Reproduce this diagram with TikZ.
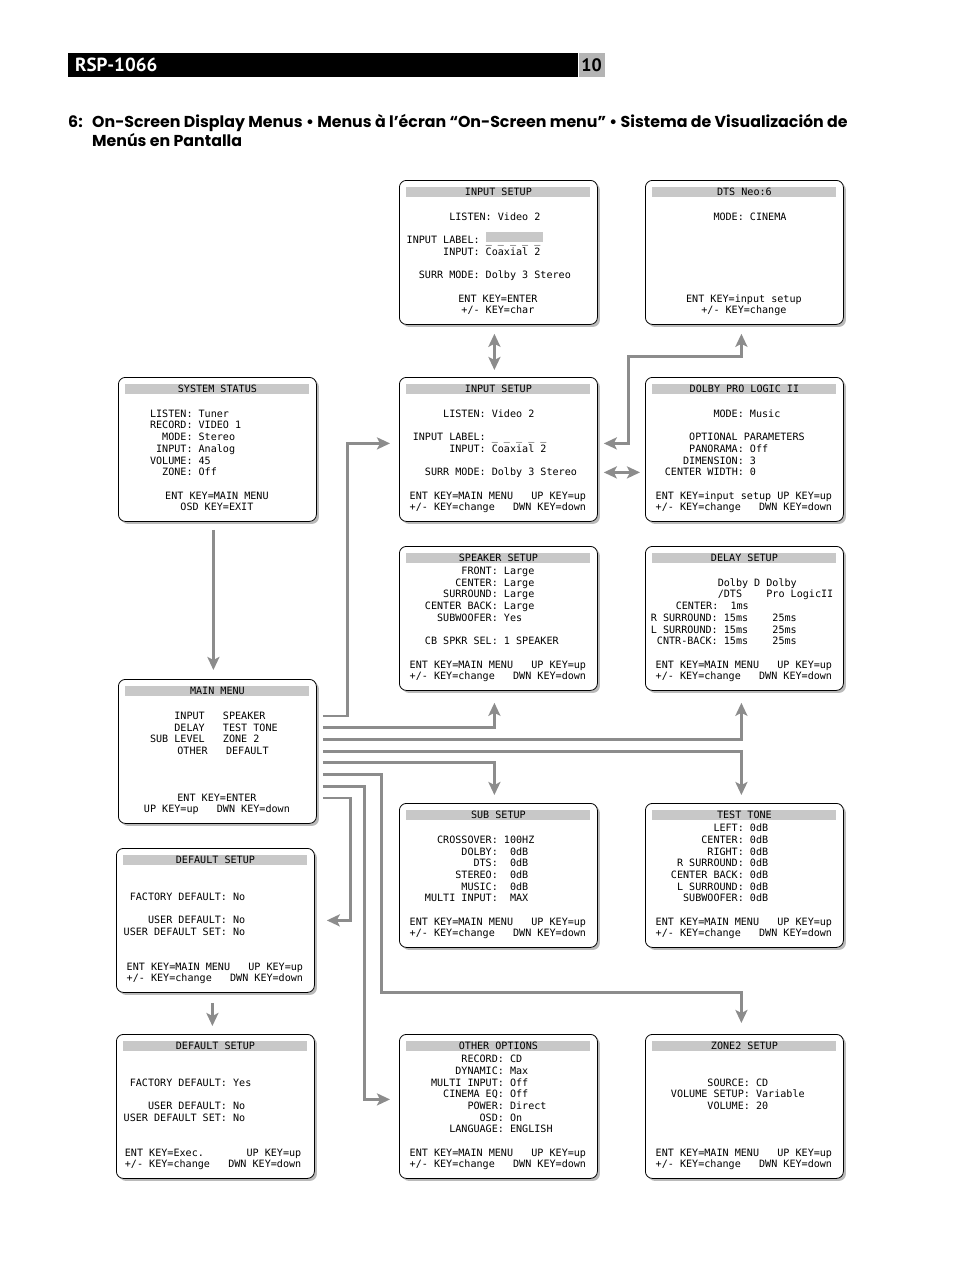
\documentclass[tikz,border=0pt]{standalone}
\usepackage{fontspec}
\setmonofont{DejaVu Sans Mono}
\newfontfamily\headfont{PT Sans}
\newfontfamily\sectfont{Poppins}
\usetikzlibrary{arrows.meta, shadows}
\definecolor{arrc}{RGB}{140,140,140}
\definecolor{barc}{RGB}{200,200,200}
\definecolor{pgc}{RGB}{180,180,180}
\newlength\osdcw
\setlength\osdcw{6.08pt}
\newcommand\osdfont{\fontsize{10.1pt}{11.7pt}\selectfont\ttfamily\frenchspacing}
\newcommand\osdin[1]{\hspace*{#1\osdcw}}
\newcommand\labelhl{\rlap{\smash{\color{barc}\rule[1.5pt]{57pt}{10pt}}}}
\newcommand\osdbox[5]{%
  \node[osd] (#1) at (#2,#3) {};
  \node[osdtitle] (#1t) at ([yshift=-12pt]#1.north) {#4};
  \node[osdbody] (#1b) at ([xshift=7.5pt,yshift=-20.2pt]#1.north west)
    {\begin{tabular}{@{}l@{}}#5\end{tabular}};}
\tikzset{
  osd/.style={draw=black, line width=0.8pt, rounded corners=7pt, fill=white,
    minimum width=198pt, minimum height=144pt, anchor=north west, inner sep=0pt,
    drop shadow={shadow xshift=2.5pt, shadow yshift=-2.5pt, fill=black!45, opacity=.6}},
  osdtitle/.style={fill=barc, minimum width=184pt, inner xsep=0pt, inner ysep=1pt,
    text height=7.3pt, text depth=0pt, font=\osdfont},
  osdbody/.style={anchor=north west, inner sep=0pt, font=\osdfont},
  conn/.style={draw=arrc, line width=2.8pt},
  arr/.style={conn, -{Stealth[length=13pt,width=12pt,inset=3pt]}},
  arr2/.style={conn, {Stealth[length=13pt,width=12pt,inset=3pt]}-{Stealth[length=13pt,width=12pt,inset=3pt]}}
}
\begin{document}
\begin{tikzpicture}[x=1pt,y=-1pt]
  \fill[white] (0,0) rectangle (954,1272);
  \useasboundingbox (0,0) rectangle (954,1272);

  \node[fill=black, minimum width=510pt, minimum height=24pt, anchor=north west, inner sep=0pt] (hdr) at (68,53) {};
  \node[anchor=west, text=white, inner sep=0pt, font=\headfont\bfseries\fontsize{19pt}{19pt}\selectfont] (model) at ([xshift=7pt]hdr.west) {RSP-1066};
  \node[fill=pgc, minimum width=26pt, minimum height=24pt, anchor=west, inner sep=0pt, font=\headfont\bfseries\fontsize{18pt}{18pt}\selectfont] (pg) at (hdr.east) {10};
  \node[anchor=north west, inner sep=0pt, font=\sectfont\bfseries\fontsize{15.8pt}{19pt}\selectfont] (sect) at (68,114)
    {\begin{tabular}{@{}l@{}l@{}}\makebox[24pt][l]{6:}&On-Screen Display Menus • Menus à l’écran “On-Screen menu” • Sistema de Visualización de\\
     &Menús en Pantalla\end{tabular}};

  \osdbox{intop}{399}{180}{INPUT SETUP}{%
    \\
    \osdin{7}LISTEN: Video~2\\
    \\
    INPUT LABEL: \labelhl\_ \_ \_ \_ \_\\
    \osdin{6}INPUT: Coaxial~2\\
    \\
    \osdin{2}SURR MODE: Dolby 3 Stereo\\
    \\
    \osdin{8.5}ENT KEY=ENTER\\
    \osdin{9}+/- KEY=char}
  \osdbox{dts}{645}{180}{DTS Neo:6}{%
    \\
    \osdin{10}MODE: CINEMA\\
    \\ \\ \\ \\ \\ \\
    \osdin{5.5}ENT KEY=input setup\\
    \osdin{8}+/- KEY=change}
  \osdbox{sys}{118}{377}{SYSTEM STATUS}{%
    \\
    \osdin{4}LISTEN: Tuner\\
    \osdin{4}RECORD: VIDEO~1\\
    \osdin{6}MODE: Stereo\\
    \osdin{5}INPUT: Analog\\
    \osdin{4}VOLUME: 45\\
    \osdin{6}ZONE: Off\\
    \\
    \osdin{6.5}ENT KEY=MAIN MENU\\
    \osdin{9}OSD KEY=EXIT}
  \osdbox{inmid}{399}{377}{INPUT SETUP}{%
    \\
    \osdin{6}LISTEN: Video~2\\
    \\
    \osdin{1}INPUT LABEL: \_ \_ \_ \_ \_\\
    \osdin{7}INPUT: Coaxial~2\\
    \\
    \osdin{3}SURR MODE: Dolby 3 Stereo\\
    \\
    \osdin{0.5}ENT KEY=MAIN MENU~~~UP KEY=up\\
    \osdin{0.5}+/- KEY=change~~~DWN KEY=down}
  \osdbox{dolby}{645}{377}{DOLBY PRO LOGIC II}{%
    \\
    \osdin{10}MODE: Music\\
    \\
    \osdin{6}OPTIONAL PARAMETERS\\
    \osdin{6}PANORAMA: Off\\
    \osdin{5}DIMENSION: 3\\
    \osdin{2}CENTER WIDTH: 0\\
    \\
    \osdin{0.5}ENT KEY=input setup UP KEY=up\\
    \osdin{0.5}+/- KEY=change~~~DWN KEY=down}
  \osdbox{spk}{399}{546}{SPEAKER SETUP}{%
    \osdin{9}FRONT: Large\\
    \osdin{8}CENTER: Large\\
    \osdin{6}SURROUND: Large\\
    \osdin{3}CENTER BACK: Large\\
    \osdin{5}SUBWOOFER: Yes\\
    \\
    \osdin{3}CB SPKR SEL: 1 SPEAKER\\
    \\
    \osdin{0.5}ENT KEY=MAIN MENU~~~UP KEY=up\\
    \osdin{0.5}+/- KEY=change~~~DWN KEY=down}
  \osdbox{dly}{645}{546}{DELAY SETUP}{%
    \\
    \osdin{10.7}Dolby D Dolby\\
    \osdin{10.7}/DTS~~~~Pro LogicII\\
    \osdin{3.8}CENTER:~~1ms\\
    \osdin{-0.3}R SURROUND: 15ms~~~~25ms\\
    \osdin{-0.3}L SURROUND: 15ms~~~~25ms\\
    \osdin{0.7}CNTR-BACK: 15ms~~~~25ms\\
    \\
    \osdin{0.5}ENT KEY=MAIN MENU~~~UP KEY=up\\
    \osdin{0.5}+/- KEY=change~~~DWN KEY=down}
  \osdbox{mm}{118}{679}{MAIN MENU}{%
    \\
    \osdin{8}INPUT~~~SPEAKER\\
    \osdin{8}DELAY~~~TEST TONE\\
    \osdin{4}SUB LEVEL~~~ZONE~2\\
    \osdin{8.5}OTHER~~~DEFAULT\\
    \\ \\ \\
    \osdin{8.5}ENT KEY=ENTER\\
    \osdin{3}UP KEY=up~~~DWN KEY=down}
  \osdbox{sub}{399}{803}{SUB SETUP}{%
    \\
    \osdin{5}CROSSOVER: 100HZ\\
    \osdin{9}DOLBY:~~0dB\\
    \osdin{11}DTS:~~0dB\\
    \osdin{8}STEREO:~~0dB\\
    \osdin{9}MUSIC:~~0dB\\
    \osdin{3}MULTI INPUT:~~MAX\\
    \\
    \osdin{0.5}ENT KEY=MAIN MENU~~~UP KEY=up\\
    \osdin{0.5}+/- KEY=change~~~DWN KEY=down}
  \osdbox{tt}{645}{803}{TEST TONE}{%
    \osdin{10}LEFT: 0dB\\
    \osdin{8}CENTER: 0dB\\
    \osdin{9}RIGHT: 0dB\\
    \osdin{4}R SURROUND: 0dB\\
    \osdin{3}CENTER BACK: 0dB\\
    \osdin{4}L SURROUND: 0dB\\
    \osdin{5}SUBWOOFER: 0dB\\
    \\
    \osdin{0.5}ENT KEY=MAIN MENU~~~UP KEY=up\\
    \osdin{0.5}+/- KEY=change~~~DWN KEY=down}
  \osdbox{defa}{116}{848}{DEFAULT SETUP}{%
    \\ \\
    \osdin{1}FACTORY DEFAULT: No\\
    \\
    \osdin{4}USER DEFAULT: No\\
    USER DEFAULT SET: No\\
    \\ \\
    \osdin{0.5}ENT KEY=MAIN MENU~~~UP KEY=up\\
    \osdin{0.5}+/- KEY=change~~~DWN KEY=down}
  \osdbox{defb}{116}{1034}{DEFAULT SETUP}{%
    \\ \\
    \osdin{1}FACTORY DEFAULT: Yes\\
    \\
    \osdin{4}USER DEFAULT: No\\
    USER DEFAULT SET: No\\
    \\ \\
    \osdin{0.2}ENT KEY=Exec.~~~~~~~UP KEY=up\\
    \osdin{0.2}+/- KEY=change~~~DWN KEY=down}
  \osdbox{oth}{399}{1034}{OTHER OPTIONS}{%
    \osdin{9}RECORD: CD\\
    \osdin{8}DYNAMIC: Max\\
    \osdin{4}MULTI INPUT: Off\\
    \osdin{6}CINEMA EQ: Off\\
    \osdin{10}POWER: Direct\\
    \osdin{12}OSD: On\\
    \osdin{7}LANGUAGE: ENGLISH\\
    \\
    \osdin{0.5}ENT KEY=MAIN MENU~~~UP KEY=up\\
    \osdin{0.5}+/- KEY=change~~~DWN KEY=down}
  \osdbox{zone}{645}{1034}{ZONE2 SETUP}{%
    \\ \\
    \osdin{9}SOURCE: CD\\
    \osdin{3}VOLUME SETUP: Variable\\
    \osdin{9}VOLUME: 20\\
    \\ \\ \\
    \osdin{0.5}ENT KEY=MAIN MENU~~~UP KEY=up\\
    \osdin{0.5}+/- KEY=change~~~DWN KEY=down}

  \coordinate (mm1) at ([xshift=6pt,yshift=-37pt]mm.north east);
  \coordinate (mm2) at ([xshift=6pt,yshift=-48.7pt]mm.north east);
  \coordinate (mm3) at ([xshift=6pt,yshift=-60.4pt]mm.north east);
  \coordinate (mm4) at ([xshift=6pt,yshift=-72.1pt]mm.north east);
  \coordinate (mm5) at ([xshift=6pt,yshift=-83.8pt]mm.north east);
  \coordinate (mm6) at ([xshift=6pt,yshift=-95.5pt]mm.north east);
  \coordinate (mm7) at ([xshift=6pt,yshift=-107.2pt]mm.north east);
  \coordinate (mm8) at ([xshift=6pt,yshift=-118.9pt]mm.north east);

  \draw[arr] (mm1) -- ++(25,0) |- ([xshift=-9pt,yshift=6pt]inmid.west);
  \draw[arr] (mm2) -| ([xshift=-4pt,yshift=-12pt]spk.south);
  \draw[arr] (mm3) -| ([xshift=-3pt,yshift=-12pt]dly.south);
  \draw[arr] (mm4) -| ([xshift=-3pt,yshift=8pt]tt.north);
  \draw[arr] (mm5) -| ([xshift=-4pt,yshift=8pt]sub.north);
  \draw[arr] (mm6) -- ++(59,0) -- ++(0,218) -| ([xshift=-3pt,yshift=11pt]zone.north);
  \draw[arr] (mm7) -- ++(42,0) |- ([xshift=-9pt,yshift=7pt]oth.west);
  \draw[arr] (mm8) -- ++(28,0) |- ([xshift=12pt]defa.east);

  \draw[arr] ([xshift=-4pt,yshift=-8pt]sys.south) -- ([xshift=-4pt,yshift=9pt]mm.north);
  \draw[arr] ([xshift=-3pt,yshift=-10pt]defa.south) -- ([xshift=-3pt,yshift=8pt]defb.north);
  \draw[arr2] ([xshift=-4pt,yshift=-9pt]intop.south) -- ([xshift=-4pt,yshift=7pt]inmid.north);
  \draw[arr2] ([xshift=6pt,yshift=-23pt]inmid.east) -- ([xshift=-5pt,yshift=-23pt]dolby.west);
  \draw[arr2] ([xshift=6pt,yshift=6pt]inmid.east) -- ++(25,0) -- ++(0,-87) -| ([xshift=-3pt,yshift=-9pt]dts.south);
\end{tikzpicture}
\end{document}
